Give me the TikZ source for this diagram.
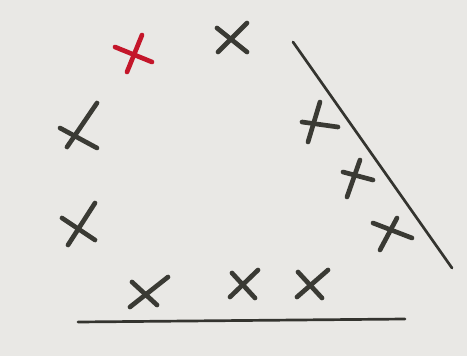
\documentclass[tikz,border=0pt]{standalone}
\usepackage{xcolor}
\definecolor{paper}{RGB}{233,232,229}
\definecolor{lead}{RGB}{58,58,52}
\definecolor{redpen}{RGB}{196,22,42}

\begin{document}
\begin{tikzpicture}[
  x=0.03cm, y=-0.03cm,
  stroke/.style={draw=lead, line width=4pt, line cap=round},
  redstroke/.style={draw=redpen, line width=4pt, line cap=round},
  rule/.style={draw=lead!90!black, line width=2.3pt, line cap=round},
]

% paper
\fill[paper] (0,0) rectangle (467,356);

% red cross
\draw[redstroke] (115,47) -- (152,62);
\draw[redstroke] (142,35) -- (127,72);

% top cross
\draw[stroke] (217,28) -- (247,52);
\draw[stroke] (247,23) -- (218,52);

% left crosses
\draw[stroke] (97,103) -- (67,147);
\draw[stroke] (60,128) -- (97,148);
\draw[stroke] (95,203) -- (68,245);
\draw[stroke] (62,218) -- (95,240);

% bottom crosses
\draw[stroke] (130,307) -- (168,277);
\draw[stroke] (132,282) -- (157,305);
\draw[stroke] (230,297) -- (258,270);
\draw[stroke] (232,273) -- (255,298);
\draw[stroke] (297,297) -- (328,270);
\draw[stroke] (298,272) -- (322,298);

% right crosses
\draw[stroke] (320,102) -- (308,142);
\draw[stroke] (302,122) -- (338,127);
\draw[stroke] (360,160) -- (347,197);
\draw[stroke] (343,172) -- (373,180);
\draw[stroke] (397,218) -- (380,250);
\draw[stroke] (373,223) -- (412,238);

% the two lines
\coordinate (slantTop) at (293,42);
\coordinate (slantEnd) at (452,268);
\coordinate (baseLeft) at (78,322);
\coordinate (baseRight) at (405,319);
\draw[rule] (slantTop) -- (slantEnd);
\draw[rule] (baseLeft) -- (baseRight);

\end{tikzpicture}
\end{document}
